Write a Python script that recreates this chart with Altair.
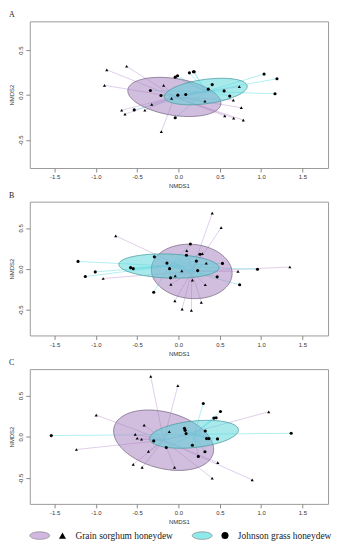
import altair as alt
import pandas as pd

groups = ["Grain sorghum honeydew", "Johnson grass honeydew"]
panels = ["A", "B", "C"]

# ---- Panel A points ----
a_gs_x = [-0.868, -0.628, -0.896, -0.18, -0.084, -0.324, -0.688, -0.648, -0.408, -0.208, 0.32, 0.736, 0.664, 0.76, 0.56, 0.668, 0.784]
a_gs_y = [0.281, 0.321, 0.109, 0.109, -0.036, -0.102, -0.168, -0.212, -0.168, -0.405, -0.066, 0.095, -0.055, -0.139, -0.23, -0.255, -0.277]
a_jg_x = [-0.34, -0.212, -0.536, -0.04, -0.04, -0.012, 0.132, 0.18, 0.19, -0.008, 0.088, 0.408, 0.36, 0.552, 0.62, 1.036, 1.192, 1.168]
a_jg_y = [0.051, -0.004, -0.164, -0.252, 0.2, 0.215, 0.248, 0.26, 0.26, 0.0, 0.007, 0.117, 0.066, 0.047, -0.011, 0.234, 0.182, 0.015]

# ---- Panel B points ----
b_gs_x = [-0.76, -0.912, 0.04, -0.04, -0.092, -0.044, 0.044, 0.156, 0.168, 0.276, 0.324, 0.1, 0.288, 0.336, 0.408, 0.516, 0.72, 1.348]
b_gs_y = [0.404, -0.116, -0.024, -0.084, -0.188, -0.388, -0.488, -0.504, -0.136, -0.408, -0.192, 0.224, 0.188, 0.072, 0.68, 0.504, -0.028, 0.024]
b_jg_x = [-1.216, -1.008, -1.128, -0.58, -0.548, -0.292, -0.3, -0.14, -0.108, -0.096, 0.232, 0.216, 0.096, 0.144, 0.26, 0.532, 0.468, 0.74, 0.956]
b_jg_y = [0.092, -0.036, -0.092, 0.016, 0.004, 0.148, -0.284, 0.072, 0.004, -0.108, -0.02, 0.096, 0.168, 0.304, 0.18, 0.068, -0.096, -0.192, -0.004]

# ---- Panel C points ----
c_gs_x = [-0.336, -0.008, -0.996, -1.236, -0.416, -0.524, -0.5, -0.448, -0.364, -0.548, -0.44, -0.048, -0.112, 0.476, 0.408, 1.092, 0.892]
c_gs_y = [0.732, 0.62, 0.264, -0.152, 0.144, 0.032, -0.016, -0.028, -0.176, -0.332, -0.368, -0.368, 0.064, -0.312, -0.5, 0.304, -0.52]
c_jg_x = [-1.54, -0.3, -0.148, 0.072, 0.08, 0.092, 0.168, 0.24, 0.32, 0.324, 0.34, 0.368, 0.472, 0.3, 0.428, 0.456, 0.508, 1.364]
c_jg_y = [0.016, -0.048, -0.128, 0.104, 0.08, 0.04, -0.1, -0.236, -0.18, 0.072, -0.02, -0.02, -0.024, 0.404, 0.228, 0.232, 0.308, 0.044]

# ---- Group centroids / dispersion ellipses (center, semi-axes, angle in degrees) ----
ell_panel = ["A", "A", "B", "B", "C", "C"]
ell_group = [groups[0], groups[1]] * 3
ell_cx = [-0.05, 0.33, 0.16, -0.116, -0.18, 0.188]
ell_cy = [-0.02, 0.04, -0.03, 0.036, -0.04, 0.032]
ell_a = [0.568, 0.505, 0.49, 0.606, 0.62, 0.54]
ell_b = [0.205, 0.135, 0.33, 0.146, 0.34, 0.16]
ell_ang = [-8, 7, -5, -2, -15, 6]

# ---- build tables ----
rows = []
for pid, sets in zip(panels, [
    [(a_gs_x, a_gs_y), (a_jg_x, a_jg_y)],
    [(b_gs_x, b_gs_y), (b_jg_x, b_jg_y)],
    [(c_gs_x, c_gs_y), (c_jg_x, c_jg_y)],
]):
    for g, (xs, ys) in zip(groups, sets):
        for xv, yv in zip(xs, ys):
            rows.append({"panel": pid, "group": g, "x": xv, "y": yv})
pts = pd.DataFrame(rows)
ell = pd.DataFrame({"panel": ell_panel, "group": ell_group, "cx": ell_cx, "cy": ell_cy,
                    "a": ell_a, "b": ell_b, "ang": ell_ang})
pts = pts.merge(ell[["panel", "group", "cx", "cy"]], on=["panel", "group"])
leg = pd.DataFrame({"group": groups})

purple_fill, cyan_fill = "#a37cbb", "#52d6da"
purple_stroke, cyan_stroke = "#806f8c", "#4f9ea3"
line_colors = ["#d2b8e0", "#8fe8ea"]

xscale = alt.Scale(domain=[-1.8, 1.81], nice=False, zero=False)
yscale = alt.Scale(domain=[-0.81, 0.82], nice=False, zero=False)
lab = "replace(format(datum.value, '.1f'), '\u2212', '-')"
xaxis = alt.Axis(values=[-1.5, -1, -0.5, 0, 0.5, 1, 1.5], title="NMDS1", labelExpr=lab)
yaxis = alt.Axis(values=[-0.5, 0, 0.5], title="NMDS2", labelExpr=lab, labelAngle=270,
                 labelAlign="center", labelBaseline="bottom")


def ellipse(pid, g, fill, stroke):
    r = "datum.t*PI/180"
    p = "datum.ang*PI/180"
    return alt.Chart(ell).transform_filter(
        (alt.datum.panel == pid) & (alt.datum.group == g)
    ).transform_calculate(t="sequence(0, 361, 4)").transform_flatten(["t"]).transform_calculate(
        ex=f"datum.cx + datum.a*cos({r})*cos({p}) - datum.b*sin({r})*sin({p})",
        ey=f"datum.cy + datum.a*cos({r})*sin({p}) + datum.b*sin({r})*cos({p})",
    ).mark_line(fill=fill, fillOpacity=0.5, stroke=stroke, strokeWidth=0.8).encode(
        x=alt.X("ex:Q", scale=xscale, axis=xaxis),
        y=alt.Y("ey:Q", scale=yscale, axis=yaxis),
        order="t:Q",
    )


def panel(pid, h):
    base = alt.Chart(pts).transform_filter(alt.datum.panel == pid)
    rules = base.mark_rule(strokeWidth=0.7).encode(
        x=alt.X("x:Q", scale=xscale, axis=xaxis),
        y=alt.Y("y:Q", scale=yscale, axis=yaxis),
        x2="cx:Q", y2="cy:Q",
        color=alt.Color("group:N", scale=alt.Scale(domain=groups, range=line_colors), legend=None),
    )
    points = base.mark_point(filled=True, size=10, color="black", opacity=1).encode(
        x=alt.X("x:Q", scale=xscale, axis=xaxis),
        y=alt.Y("y:Q", scale=yscale, axis=yaxis),
        shape=alt.Shape("group:N", scale=alt.Scale(domain=groups, range=["triangle-up", "circle"]), legend=None),
    )
    return alt.layer(
        rules,
        ellipse(pid, groups[0], purple_fill, purple_stroke),
        ellipse(pid, groups[1], cyan_fill, cyan_stroke),
        points,
    ).properties(
        width=301, height=h,
        title=alt.TitleParams(pid, anchor="start", fontSize=8, font="Liberation Serif",
                              fontWeight="normal", offset=2, color="#222"),
    )


ell_path = "M -1 0 A 1 0.38 0 1 1 1 0 A 1 0.38 0 1 1 -1 0 Z"
lx = alt.X("group:N", scale=alt.Scale(type="point", domain=groups, range=[10, 174], padding=0), axis=None)
legend_base = alt.Chart(leg)
leg_ell = legend_base.mark_point(shape=ell_path, filled=True, size=400, stroke="#777777",
                                 strokeWidth=0.6, opacity=1).encode(
    x=lx, y=alt.value(-2),
    color=alt.Color("group:N", scale=alt.Scale(domain=groups, range=["#d8c6e2", "#b4eeef"]), legend=None),
)
leg_sym = legend_base.mark_point(filled=True, size=50, color="black", opacity=1, xOffset=23).encode(
    x=lx, y=alt.value(-2),
    shape=alt.Shape("group:N", scale=alt.Scale(domain=groups, range=["triangle-up", "circle"]), legend=None),
)
leg_txt = legend_base.mark_text(align="left", baseline="middle", dx=36, font="Liberation Serif",
                                fontSize=9.5, color="#222").encode(
    x=lx, y=alt.value(-2), text="group:N",
)
legend_panel = alt.layer(leg_ell, leg_sym, leg_txt).properties(
    width=301, height=1, view=alt.ViewBackground(stroke="transparent")
)

chart = alt.vconcat(
    panel("A", 148), panel("B", 135), panel("C", 136), legend_panel,
    spacing=34, bounds="flush",
).properties(padding={"left": 0, "top": 0, "right": 0, "bottom": 0}).configure_view(
    stroke="#9a9a9a", strokeWidth=1
).configure_axis(
    grid=False, domain=False, tickColor="#888888", tickSize=4, labelFontSize=6,
    titleFontSize=6, labelFont="Liberation Sans", titleFont="Liberation Sans",
    labelColor="#333333", titleColor="#333333", titleFontWeight="normal",
    labelPadding=2, titlePadding=3, labelFlush=False, labelOverlap=False,
)

chart.save("out.html", embed_options={"renderer": "svg", "actions": False})
